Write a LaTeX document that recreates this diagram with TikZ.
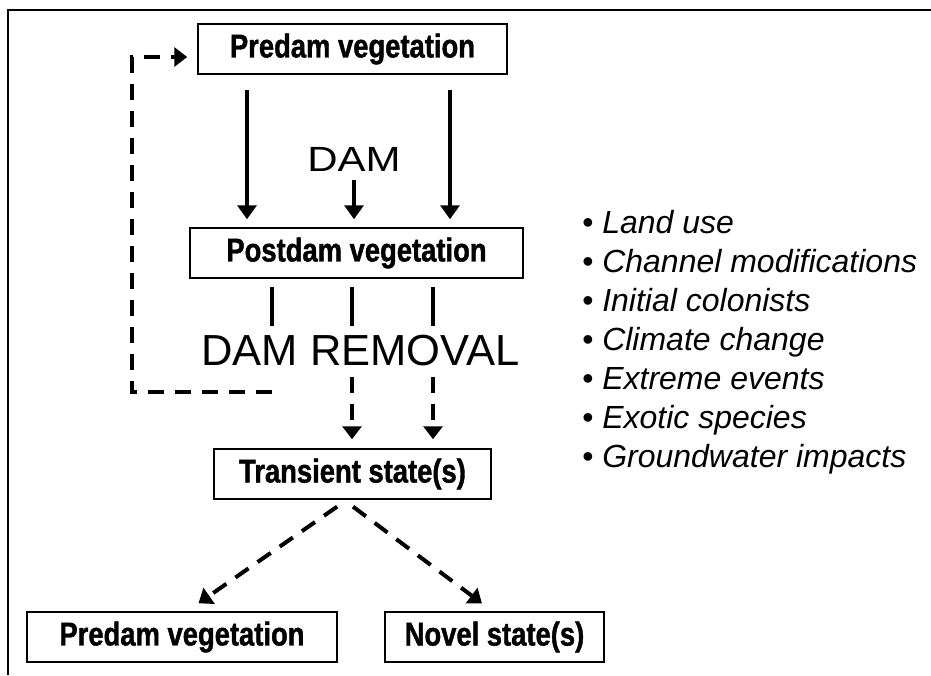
\documentclass[tikz,border=0pt]{standalone}
\usepackage{fontspec}
\setmainfont{Liberation Sans}
\newfontfamily\boxfont[FakeStretch=0.83, FakeBold=1.2]{Liberation Sans}
\newfontfamily\widefont[FakeStretch=1.2]{Liberation Sans}
\usetikzlibrary{arrows.meta, positioning, calc}

\begin{document}
\begin{tikzpicture}[
    x=1pt, y=-1pt,
    box/.style={rectangle, draw, line width=1.5pt, inner sep=0pt, minimum height=50pt, align=center, font=\boxfont\bfseries\fontsize{33}{38}\selectfont},
    cue/.style={inner sep=0pt, anchor=base},
    arrow/.style={-{Triangle[length=14pt, width=19pt]}, line width=3.8pt},
    dasharrow/.style={-{Triangle[length=13pt, width=19pt]}, line width=4pt, dash pattern=on 16pt off 11pt},
    cut/.style={line width=4pt},
    factor/.style={inner sep=0pt, anchor=north west, align=left, font=\itshape\fontsize{32}{39}\selectfont}
]
\useasboundingbox (0,0) rectangle (931,675);
\draw[line width=2pt] (931,10) -- (8,10) -- (8,675);

\node[box, minimum width=309pt] (predam) at (352.5,49) {Predam vegetation};
\node[box, minimum width=333pt] (postdam) at (356.5,253) {Postdam vegetation};
\node[cue, font=\widefont\fontsize{35}{40}\selectfont] (dam) at (354,171) {DAM};
\node[cue, font=\fontsize{43.5}{50}\selectfont] (removal) at (360.5,365) {DAM REMOVAL};
\node[box, minimum width=277pt] (transient) at (352.5,474) {Transient state(s)};
\node[box, minimum width=310pt] (predam2) at (182,637) {Predam vegetation};
\node[box, minimum width=219pt] (novel) at (494.5,637) {Novel state(s)};
\node[factor] (factors) at (582,210) {• Land use\\ • Channel modifications\\ • Initial colonists\\ • Climate change\\ • Extreme events\\ • Exotic species\\ • Groundwater impacts};

\coordinate (loopstart) at (272,392);
\draw[arrow, shorten <=15pt, shorten >=8pt] (predam.south -| 247,0) -- (postdam.north -| 247,0);
\draw[arrow, shorten <=15pt, shorten >=8pt] (predam.south -| 450,0) -- (postdam.north -| 450,0);
\draw[arrow, shorten <=9pt, shorten >=8pt] (dam.south) -- (postdam.north -| dam.south);
\draw[cut, shorten <=8pt, shorten >=8pt] (postdam.south -| 272,0) -- (removal.north -| 272,0);
\draw[cut, shorten <=8pt, shorten >=8pt] (postdam.south -| 352,0) -- (removal.north -| 352,0);
\draw[cut, shorten <=8pt, shorten >=8pt] (postdam.south -| 433,0) -- (removal.north -| 433,0);
\draw[dasharrow, shorten <=11pt, shorten >=9pt] (removal.south -| 352,0) -- (transient.north -| 352,0);
\draw[dasharrow, shorten <=11pt, shorten >=9pt] (removal.south -| 433,0) -- (transient.north -| 433,0);
\draw[dasharrow, shorten >=10pt] (loopstart) -| ([shift={(-65,8)}]predam.west) -- ([yshift=-8pt]predam.west);
\draw[dasharrow, shorten <=12pt, shorten >=14pt] ([xshift=-5.5pt]transient.south) -- ([xshift=5pt]predam2.north);
\draw[dasharrow, shorten <=11.6pt, shorten >=13.2pt] ([xshift=-8.7pt]transient.south) -- ([xshift=-2pt]novel.north);
\end{tikzpicture}
\end{document}
